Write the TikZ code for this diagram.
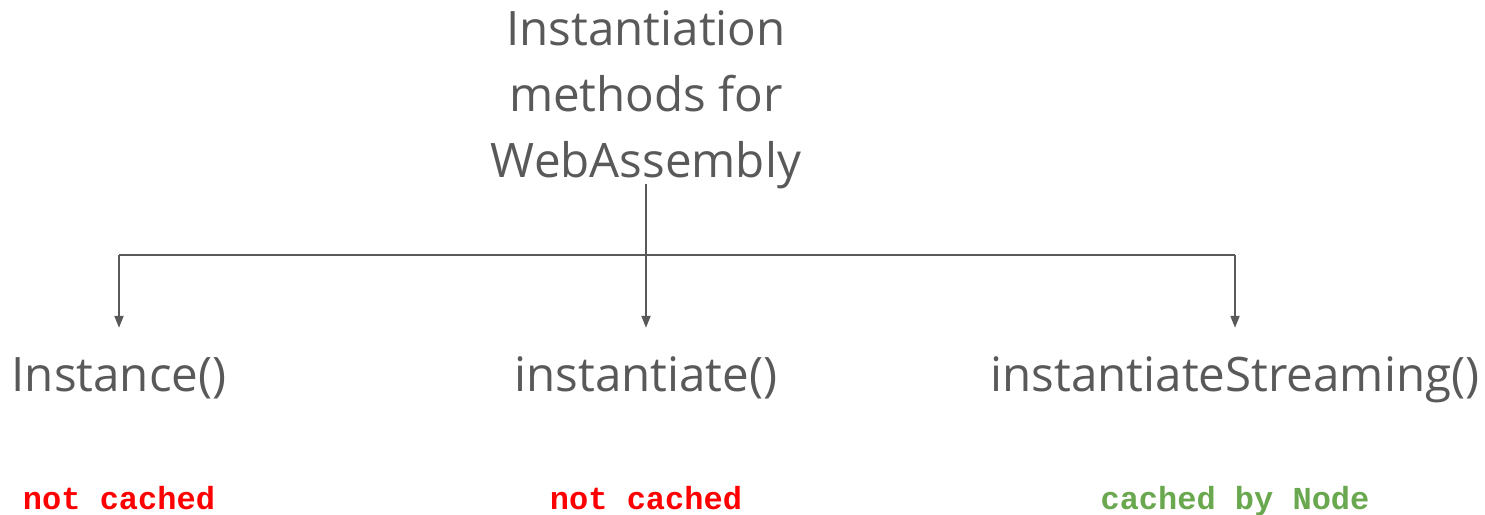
\documentclass[tikz,border=0pt]{standalone}
\usepackage{fontspec}
\setmainfont{Open Sans}
\newfontfamily\codefont{Liberation Mono}
\usetikzlibrary{arrows.meta}
\definecolor{ink}{HTML}{595959}
\definecolor{nocache}{HTML}{FF0000}
\definecolor{cache}{HTML}{6AA84F}
\tikzset{
  title/.style={inner sep=0pt, align=center, text=ink,
    font=\fontsize{47.5}{66}\selectfont},
  method/.style={inner sep=0pt, anchor=base, text=ink,
    text height=33pt, text depth=11pt,
    font=\fontsize{47.5}{56}\selectfont},
  note/.style={inner sep=0pt, anchor=base,
    font=\codefont\bfseries\fontsize{32}{38}\selectfont},
  wire/.style={draw=ink, line width=2pt},
  feed/.style={wire, -{Triangle[length=12pt,width=9pt]}, shorten >=30pt},
}
\begin{document}
\begin{tikzpicture}[x=1pt,y=-1pt]
  \useasboundingbox (0,0) rectangle (1485,514);
  % root heading
  \node[title, anchor=north] (t) at (646,10) {Instantiation\\methods for\\WebAssembly};
  % the three instantiation calls
  \node[method] (i1) at (119,391) {Instance()};
  \node[method] (i2) at (646,391) {instantiate()};
  \node[method] (i3) at (1235,391) {instantiateStreaming()};
  % caching notes
  \node[note, text=nocache] (c1) at (119,509) {not cached};
  \node[note, text=nocache] (c2) at (646,509) {not cached};
  \node[note, text=cache] (c3) at (1235,509) {cached by Node};
  % branching connectors
  \coordinate (bar) at (646,255);
  \draw[wire] (i1.north |- bar) -- (i3.north |- bar);
  \draw[feed, shorten <=-5pt] (t.south) -- (i2.north);
  \draw[feed] (i1.north |- bar) -- (i1.north);
  \draw[feed] (i3.north |- bar) -- (i3.north);
\end{tikzpicture}
\end{document}
